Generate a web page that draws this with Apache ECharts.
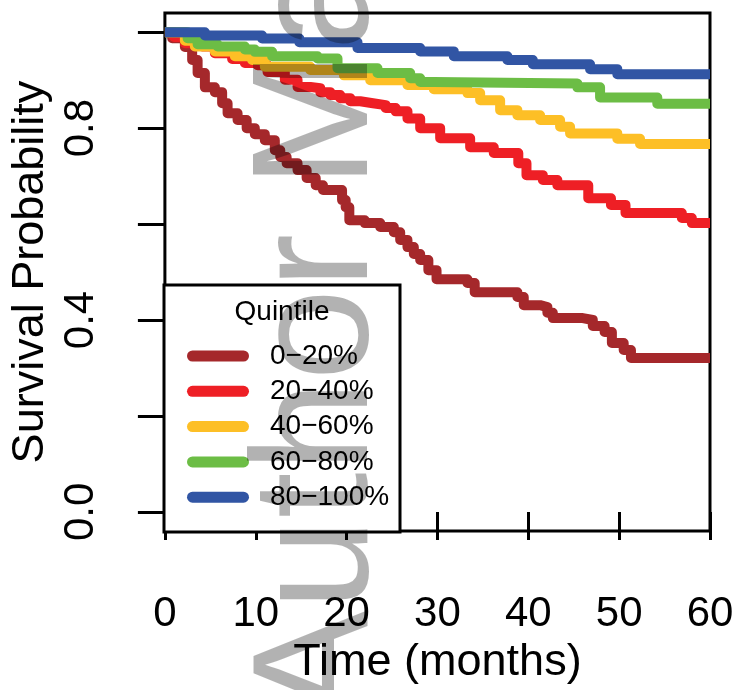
<!DOCTYPE html>
<html>
<head>
<meta charset="utf-8">
<script src="https://cdn.jsdelivr.net/npm/echarts@6/dist/echarts.min.js"></script>
<style>
  html, body { margin: 0; padding: 0; background: #fff; }
  #container { width: 738px; height: 690px; }
</style>
</head>
<body>
<div id="container"></div>
<script>
// Kaplan-Meier step curves, [month, survival]
var q1 = [[0,1],[0.8,0.9875],[2.2,0.969],[3.0,0.942],[3.6,0.915],[4.4,0.885],[5.5,0.875],[6.3,0.852],[6.9,0.831],[8.0,0.817],[9.0,0.8],[9.9,0.7875],[11.0,0.775],[12.1,0.754],[12.7,0.74],[13.4,0.727],[14.6,0.7125],[15.6,0.696],[16.6,0.681],[17.4,0.671],[19.5,0.65],[19.9,0.635],[20.3,0.608],[22.0,0.602],[23.7,0.594],[25.2,0.583],[25.9,0.567],[26.7,0.552],[27.4,0.5375],[28.1,0.525],[29.0,0.504],[29.9,0.485],[33.3,0.477],[34.1,0.458],[38.8,0.448],[39.5,0.431],[41.3,0.427],[42.1,0.415],[42.7,0.404],[46.0,0.4],[47.1,0.3875],[48.4,0.375],[49.2,0.352],[50.5,0.3375],[51.3,0.321],[60,0.321]];
var q2 = [[0,1],[1.0,0.99],[2.2,0.977],[4.1,0.97],[5.5,0.956],[7.4,0.944],[8.8,0.936],[10.2,0.931],[11.3,0.917],[13.2,0.901],[14.6,0.886],[16.0,0.883],[17.1,0.875],[18.2,0.869],[19.3,0.8625],[20.4,0.856],[21.5,0.852],[22.9,0.848],[24.3,0.842],[25.4,0.835],[26.7,0.82],[28.1,0.8],[30.3,0.779],[33.6,0.76],[36.2,0.748],[38.9,0.727],[39.8,0.702],[41.6,0.692],[43.2,0.681],[46.6,0.654],[49.1,0.64],[50.7,0.623],[56.9,0.6125],[58.0,0.602],[60,0.602]];
var q3 = [[0,1],[2.2,0.982],[3.3,0.97],[5.5,0.96],[7.7,0.95],[9.6,0.942],[11.0,0.928],[16.0,0.921],[19.7,0.91],[22.6,0.9],[26.7,0.89],[29.6,0.881],[33.3,0.873],[34.7,0.858],[36.9,0.8375],[38.8,0.827],[41.3,0.817],[43.5,0.803],[44.6,0.789],[49.8,0.778],[52.3,0.767],[60,0.767]];
var q4 = [[0,1],[2.5,0.9875],[3.6,0.975],[5.8,0.97],[8.8,0.964],[9.9,0.959],[11.8,0.95],[16.8,0.945],[19.0,0.925],[23.4,0.915],[27.0,0.904],[28.1,0.896],[29.6,0.893],[45.4,0.885],[47.9,0.864],[54.2,0.851],[60,0.851]];
var q5 = [[0,1],[4.4,0.993],[10.7,0.987],[14.8,0.979],[21.2,0.967],[28.1,0.96],[31.8,0.95],[37.7,0.942],[40.5,0.933],[46.8,0.923],[49.8,0.9125],[60,0.9125]];

var groupNames = ['0\u221220%', '20\u221240%', '40\u221260%', '60\u221280%', '80\u2212100%'];
var groupColors = ['#A5282B', '#EE1F25', '#FDBF26', '#6CBD45', '#3155A4'];
var groupData = [q1, q2, q3, q4, q5];

var yTicks = [0, 0.2, 0.4, 0.6, 0.8, 1.0];
var yLabels = [0, 0.4, 0.8];

var fontFam = '"Liberation Sans", Arial, Helvetica, sans-serif';

var dom = document.getElementById('container');
var myChart = echarts.init(dom, null, { renderer: 'canvas' });

var series = groupData.map(function (d, i) {
    return {
        name: groupNames[i],
        type: 'line',
        step: 'end',
        data: d,
        showSymbol: false,
        symbol: 'none',
        color: groupColors[i],
        lineStyle: { width: 10, color: groupColors[i], join: 'round' },
        z: 2
    };
});

var option = {
    animation: false,
    backgroundColor: '#fff',
    grid: {
        left: 164, right: 28, top: 13, bottom: 158,
        show: true, borderColor: '#000', borderWidth: 3
    },
    xAxis: {
        type: 'value', min: 0, max: 60, interval: 10,
        name: 'Time (months)', nameLocation: 'middle', nameGap: 104,
        nameTextStyle: { fontSize: 45, color: '#000', fontFamily: fontFam },
        axisLine: { show: false },
        axisTick: { length: 28, lineStyle: { color: '#000', width: 3 } },
        axisLabel: { fontSize: 42, color: '#000', fontFamily: fontFam, margin: 62 },
        splitLine: { show: false }
    },
    yAxis: {
        type: 'value', min: -0.04, max: 1.04,
        name: 'Survival Probability', nameLocation: 'middle', nameRotate: 90, nameGap: 103,
        nameTextStyle: { fontSize: 45, color: '#000', fontFamily: fontFam },
        axisLine: { show: false },
        axisTick: { length: 27, customValues: yTicks, lineStyle: { color: '#000', width: 3 } },
        axisLabel: {
            customValues: yLabels, rotate: 90, margin: 62,
            fontSize: 42, color: '#000', fontFamily: fontFam,
            formatter: function (v) { return v.toFixed(1); }
        },
        splitLine: { show: false }
    },
    legend: {
        orient: 'vertical', left: 187, top: 342, padding: 0,
        itemWidth: 62, itemHeight: 11, itemGap: 7.3,
        icon: 'path://M5.5,0 L56.5,0 A5.5,5.5 0 0 1 56.5,11 L5.5,11 A5.5,5.5 0 0 1 5.5,0 Z',
        data: groupNames,
        textStyle: { fontSize: 28, lineHeight: 28, color: '#000', fontFamily: fontFam, padding: [0, 0, 0, 16] },
        z: 5
    },
    graphic: [
        {
            type: 'rect', z: 3,
            shape: { x: 164, y: 285, width: 236, height: 247 },
            style: { fill: '#fff', stroke: '#000', lineWidth: 3 }
        },
        {
            type: 'text', z: 6, x: 282, y: 312,
            style: { text: 'Quintile', font: '28px ' + fontFam, fill: '#000', align: 'center', verticalAlign: 'middle' }
        },
        {
            type: 'text', z: 100, x: 321, y: 720, rotation: Math.PI / 2,
            style: { text: 'Author Manuscript', font: '165px ' + fontFam, fill: 'rgba(0,0,0,0.3)', align: 'left', verticalAlign: 'middle' },
            silent: true
        }
    ],
    series: series
};

myChart.setOption(option);
window.addEventListener('resize', myChart.resize);
</script>
</body>
</html>
